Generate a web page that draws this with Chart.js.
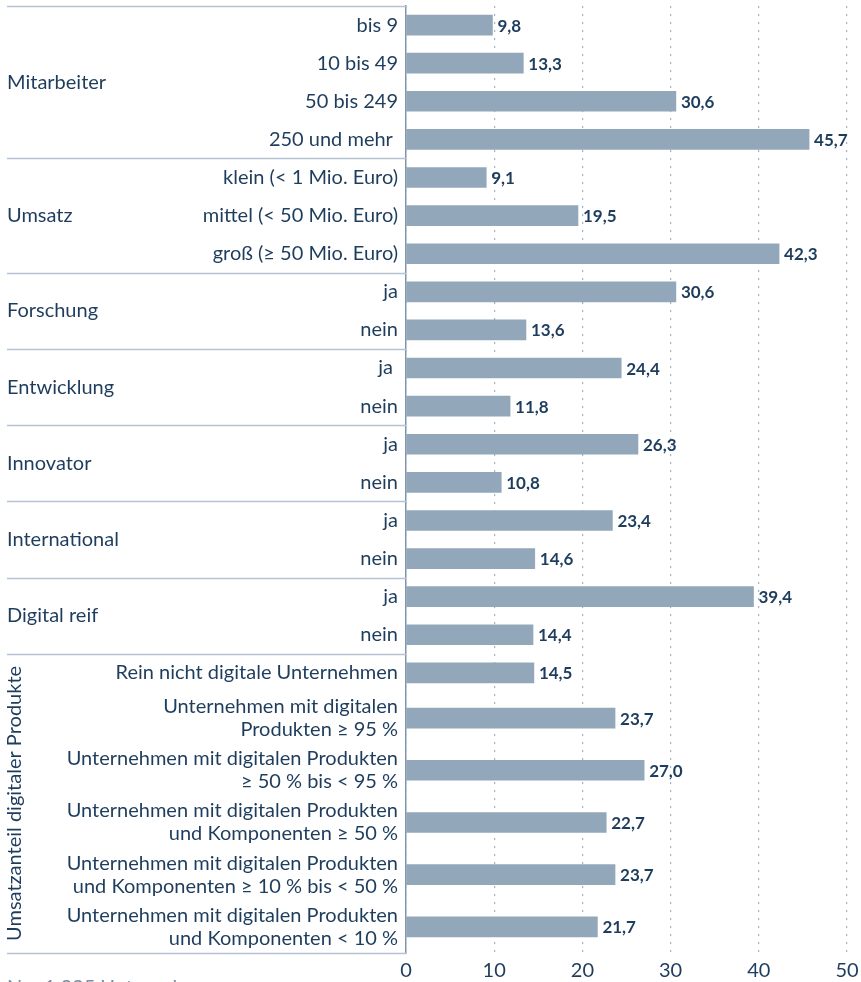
<!DOCTYPE html>
<html>
<head>
<meta charset="utf-8">
<script src="https://cdn.jsdelivr.net/npm/chart.js@4"></script>
<style>
  body { margin: 0; background: #fff; }
  #wrap { width: 861px; height: 982px; position: relative; }
</style>
</head>
<body>
<div id="wrap"><canvas id="chart"></canvas></div>
<script>
// Data
const groups = ['Mitarbeiter', 'Umsatz', 'Forschung', 'Entwicklung', 'Innovator', 'International', 'Digital reif', 'Umsatzanteil digitaler Produkte'];
const groupSizes = [4, 3, 2, 2, 2, 2, 2, 6];
const categories = [
  'bis 9', '10 bis 49', '50 bis 249', '250 und mehr ',
  'klein (< 1 Mio. Euro)', 'mittel (< 50 Mio. Euro)', 'groß (≥ 50 Mio. Euro)',
  'ja', 'nein',
  'ja ', 'nein',
  'ja', 'nein',
  'ja', 'nein',
  'ja', 'nein',
  'Rein nicht digitale Unternehmen',
  ['Unternehmen mit digitalen', 'Produkten ≥ 95 %'],
  ['Unternehmen mit digitalen Produkten', '≥ 50 % bis < 95 %'],
  ['Unternehmen mit digitalen Produkten', 'und Komponenten ≥ 50 %'],
  ['Unternehmen mit digitalen Produkten', 'und Komponenten ≥ 10 % bis < 50 %'],
  ['Unternehmen mit digitalen Produkten', 'und Komponenten < 10 %']
];
const values = [9.8, 13.3, 30.6, 45.7, 9.1, 19.5, 42.3, 30.6, 13.6, 24.4, 11.8, 26.3, 10.8, 23.4, 14.6, 39.4, 14.4, 14.5, 23.7, 27.0, 22.7, 23.7, 21.7];
const xTicks = [0, 10, 20, 30, 40, 50];
const footnote = 'N = 1.335 Unternehmen';

const FONT = 'Lato, "Noto Sans", sans-serif';
const TEXT = '#1e3d5d';
const BAR = '#93a7ba';

// row layout: two-line labels get taller rows
let pos = 0;
const centers = [];
const rowEdges = [0];
categories.forEach(c => {
  const h = Array.isArray(c) ? 1 + 0.37 * (c.length - 1) : 1;
  centers.push(pos + h / 2);
  pos += h;
  rowEdges.push(pos);
});
const total = pos;
const groupEdges = [0];
let k = 0;
groupSizes.forEach(n => { k += n; groupEdges.push(rowEdges[k]); });

const fmt = v => v.toFixed(1).replace('.', ',');

const noPad = axis => {
  axis.paddingTop = 0; axis.paddingBottom = 0;
  axis.paddingLeft = 0; axis.paddingRight = 0;
};

const groupPlugin = {
  id: 'groups',
  afterDraw(chart) {
    const ctx = chart.ctx;
    const y = chart.scales.y;
    const left = chart.chartArea.left;
    ctx.save();
    // separators
    ctx.strokeStyle = '#b5c3d2';
    ctx.lineWidth = 1.5;
    groupEdges.forEach(e => {
      const py = Math.round(y.getPixelForValue(e)) + 0.5;
      ctx.beginPath();
      ctx.moveTo(7, py);
      ctx.lineTo(left, py);
      ctx.stroke();
    });
    // group names
    ctx.fillStyle = TEXT;
    ctx.font = '20px ' + FONT;
    ctx.textBaseline = 'middle';
    groups.forEach((g, i) => {
      const mid = y.getPixelForValue((groupEdges[i] + groupEdges[i + 1]) / 2);
      if (i === groups.length - 1) {
        ctx.save();
        ctx.translate(15, mid);
        ctx.rotate(-Math.PI / 2);
        ctx.textAlign = 'center';
        ctx.fillText(g, 0, 0);
        ctx.restore();
      } else {
        ctx.textAlign = 'left';
        ctx.fillText(g, 7, mid);
      }
    });
    // footnote, cut at the bottom edge
    ctx.fillStyle = '#7a8ca0';
    ctx.textAlign = 'left';
    ctx.textBaseline = 'top';
    ctx.fillText(footnote, 7, 978);
    ctx.restore();
  },
  afterDatasetsDraw(chart) {
    const ctx = chart.ctx;
    const meta = chart.getDatasetMeta(0);
    ctx.save();
    ctx.fillStyle = TEXT;
    ctx.font = 'bold 17px ' + FONT;
    ctx.textAlign = 'left';
    ctx.textBaseline = 'middle';
    meta.data.forEach((bar, i) => {
      ctx.fillText(fmt(values[i]), bar.x + 5, bar.y + 1);
    });
    ctx.restore();
  }
};

new Chart(document.getElementById('chart'), {
  type: 'bar',
  data: {
    datasets: [{
      data: values.map((v, i) => ({ x: v, y: centers[i] })),
      backgroundColor: BAR,
      borderWidth: 0,
      barThickness: 20
    }]
  },
  options: {
    indexAxis: 'y',
    responsive: true,
    maintainAspectRatio: false,
    animation: false,
    layout: { padding: { top: 6, right: 14, left: 0, bottom: 0 } },
    plugins: { legend: { display: false }, tooltip: { enabled: false } },
    scales: {
      x: {
        type: 'linear',
        min: 0,
        max: 50,
        afterBuildTicks: axis => { axis.ticks = xTicks.map(v => ({ value: v })); },
        afterFit: axis => { axis.height = 29; noPad(axis); },
        ticks: { color: TEXT, font: { family: FONT, size: 20 }, padding: 6 },
        grid: { color: '#9fb1c4', lineWidth: 1.2, drawTicks: false },
        border: { display: false, dash: [2, 6] }
      },
      y: {
        type: 'linear',
        reverse: true,
        offset: false,
        min: 0,
        max: total,
        afterBuildTicks: axis => { axis.ticks = centers.map(v => ({ value: v })); },
        afterFit: axis => { axis.width = 406; noPad(axis); },
        ticks: {
          autoSkip: false,
          color: TEXT,
          font: { family: FONT, size: 20, lineHeight: 1.15 },
          padding: 8,
          callback: (v, i) => categories[i]
        },
        grid: { display: false, drawTicks: false, offset: false },
        border: { display: true, color: '#7f96ad', width: 1.5 }
      }
    }
  },
  plugins: [groupPlugin]
});
</script>
</body>
</html>
